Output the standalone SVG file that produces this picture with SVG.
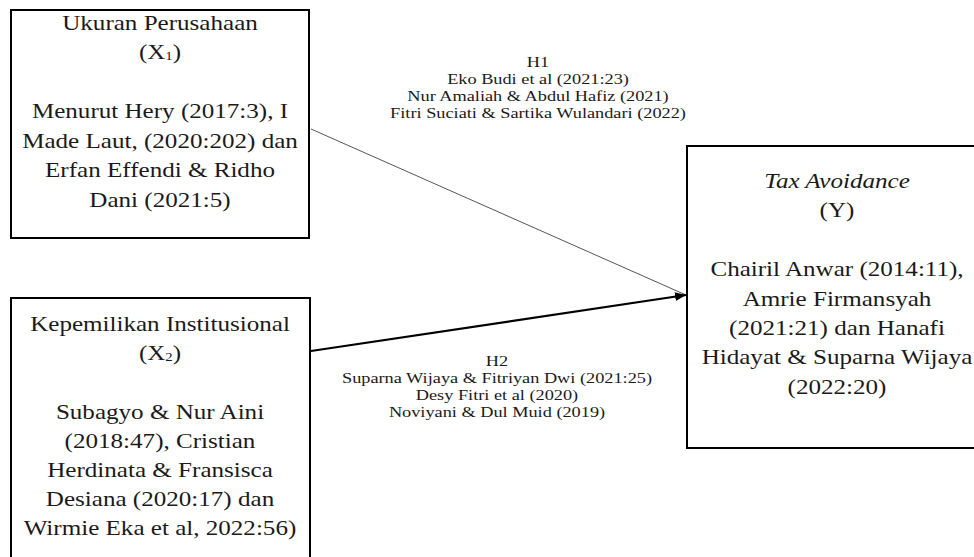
<svg xmlns="http://www.w3.org/2000/svg" width="974" height="557" viewBox="0 0 974 557">
<defs>
<style>
.box{fill:#fff;stroke:#000;stroke-width:2}
.t{font-family:"Liberation Serif","Times New Roman",serif;font-size:22px;fill:#1a1a1a;text-anchor:middle}
.l{font-family:"Liberation Serif","Times New Roman",serif;font-size:15.5px;fill:#1a1a1a;text-anchor:middle}
.sub{font-size:13px}
</style>
<marker id="ah" markerUnits="userSpaceOnUse" markerWidth="12" markerHeight="10" refX="11" refY="5" orient="auto">
<path d="M0,0.5 L11,5 L0,9.5 Z" fill="#000"/>
</marker>
</defs>
<rect width="974" height="557" fill="#fff"/>
<g id="connectors">
<line x1="311" y1="129" x2="686" y2="295" stroke="#555" stroke-width="1"/>
<line x1="311" y1="351" x2="686" y2="295" stroke="#000" stroke-width="2.2" marker-end="url(#ah)"/>
</g>
<g id="x1">
<rect class="box" x="11" y="10" width="298" height="228"/>
<g transform="translate(160 0) scale(1.14 1)">
<text class="t" x="0" y="30">Ukuran Perusahaan</text>
<text class="t" x="0" y="59.5">(X<tspan class="sub" dy="1">1</tspan><tspan dy="-1">)</tspan></text>
<text class="t" x="0" y="118.5">Menurut Hery (2017:3), I</text>
<text class="t" x="0" y="148">Made Laut, (2020:202) dan</text>
<text class="t" x="0" y="177.5">Erfan Effendi &amp; Ridho</text>
<text class="t" x="0" y="207">Dani (2021:5)</text>
</g>
</g>
<g id="x2">
<rect class="box" x="11" y="298" width="299" height="270"/>
<g transform="translate(160 0) scale(1.14 1)">
<text class="t" x="0" y="331">Kepemilikan Institusional</text>
<text class="t" x="0" y="360.2">(X<tspan class="sub" dy="1">2</tspan><tspan dy="-1">)</tspan></text>
<text class="t" x="0" y="418.6">Subagyo &amp; Nur Aini</text>
<text class="t" x="0" y="447.8">(2018:47), Cristian</text>
<text class="t" x="0" y="477">Herdinata &amp; Fransisca</text>
<text class="t" x="0" y="506.2">Desiana (2020:17) dan</text>
<text class="t" x="0" y="535.4">Wirmie Eka et al, 2022:56)</text>
</g>
</g>
<g id="y">
<rect class="box" x="687" y="146" width="301" height="302"/>
<g transform="translate(837 0) scale(1.14 1)">
<text class="t" x="0" y="188" font-style="italic">Tax Avoidance</text>
<text class="t" x="0" y="217.4">(Y)</text>
<text class="t" x="0" y="276.2">Chairil Anwar (2014:11),</text>
<text class="t" x="0" y="305.6">Amrie Firmansyah</text>
<text class="t" x="0" y="335">(2021:21) dan Hanafi</text>
<text class="t" x="0" y="364.4">Hidayat &amp; Suparna Wijaya</text>
<text class="t" x="0" y="393.8">(2022:20)</text>
</g>
</g>
<g id="h1">
<g transform="translate(538 0) scale(1.18 1)">
<text class="l" x="0" y="67">H1</text>
<text class="l" x="0" y="84">Eko Budi et al (2021:23)</text>
<text class="l" x="0" y="101">Nur Amaliah &amp; Abdul Hafiz (2021)</text>
<text class="l" x="0" y="118">Fitri Suciati &amp; Sartika Wulandari (2022)</text>
</g>
</g>
<g id="h2">
<g transform="translate(497 0) scale(1.18 1)">
<text class="l" x="0" y="366">H2</text>
<text class="l" x="0" y="383">Suparna Wijaya &amp; Fitriyan Dwi (2021:25)</text>
<text class="l" x="0" y="400">Desy Fitri et al (2020)</text>
<text class="l" x="0" y="417">Noviyani &amp; Dul Muid (2019)</text>
</g>
</g>
</svg>
